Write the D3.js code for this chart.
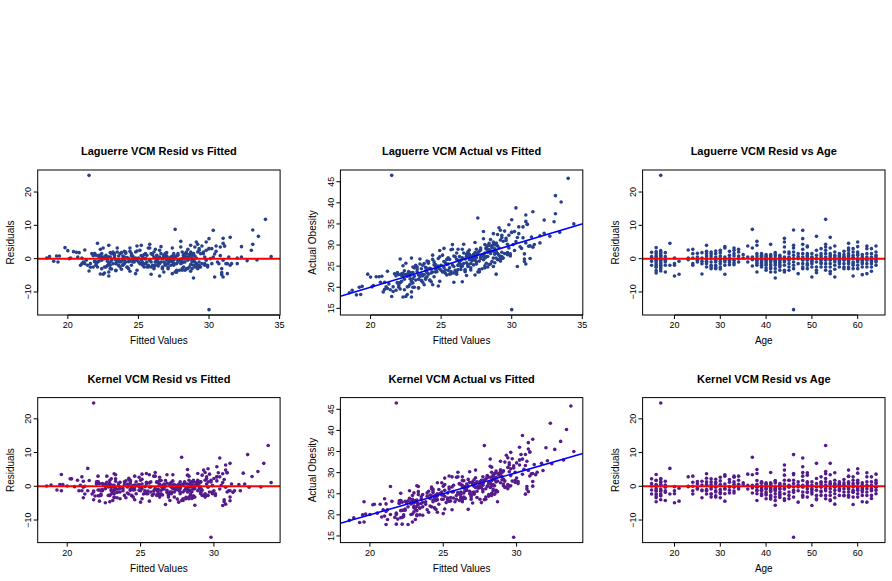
<!DOCTYPE html>
<html>
<head>
<meta charset="utf-8">
<script src="https://cdn.jsdelivr.net/npm/d3@7"></script>
<style>
  body { margin: 0; background: #fff; }
  svg { display: block; }
  text { font-family: "Liberation Sans", Arial, Helvetica, sans-serif; fill: #000; }
</style>
</head>
<body>
<svg width="892" height="581"></svg>
<script>
// ages present in the sample (no 22 year olds)
const ageLevels = [15,16,17,18,19,20,21,23,24,25,26,27,28,29,30,31,32,33,34,35,36,37,38,39,40,
                   41,42,43,44,45,46,47,48,49,50,51,52,53,54,55,56,57,58,59,60,61,62,63,64]

// Laguerre VCM fitted values, grouped by age
const fittedLaguerre = [
  [18.5,19.0,20.6,21.4,22.2],
  [19.8,20.4,21.7,19.2,22.5,20.1,23.1,21.1,22.0,22.8,21.6,23.4,22.6],
  [21.5,20.0,23.5,19.4,21.9,22.3,20.7,24.0,22.1,21.2,23.0,21.8,22.4,21.5],
  [20.8,18.7,21.3,19.3,23.6,22.9],
  [22.1,20.9],
  [20.2,21.0,24.5,22.9],
  [23.8,22.5],
  [21.2,22.7,24.6],
  [22.3,23.3,21.0,25.2,22.0],
  [24.1,22.8,25.8,23.7],
  [23.0,24.8,21.9,26.4,22.3],
  [22.9,24.4,25.5,23.6,26.7,22.2,25.0,24.0,27.1],
  [23.2,25.9,24.6,22.6,26.2,23.9,25.4,24.3],
  [24.9,22.4,26.8,23.4,25.6,27.3,24.2,26.1],
  [25.1,23.8,27.0,24.7,22.8,26.5,25.7,23.1],
  [26.6,24.4,25.3,27.5,23.5,26.0,25.9],
  [24.0,26.3,25.0,27.8,23.0,26.9],
  [25.7,26.5,24.5,27.4,25.2,28.1,23.9],
  [26.2,24.1,27.7,25.5,26.8],
  [25.4,27.2],
  [24.9,26.1,28.3],
  [27.6,25.8,24.6,27.9,26.4],
  [28.0,25.2,26.9,28.6,24.3,27.3,25.9,29.1,26.2,27.7],
  [27.5,25.6,28.8,24.8,26.6,30.2,25.3,28.2,27.0,26.3],
  [26.0,28.4,24.7,27.1,30.6,25.5,28.9,26.7,27.9,23.9],
  [25.8,28.2,26.5,30.1,24.9,27.4,28.7,26.1,30.9,27.7,25.2,28.0],
  [27.0,29.0,25.4,28.5,26.4,31.2,27.5,28.1,26.8,28.9,24.4,30.4],
  [27.3,28.6,26.3,30.7,25.6,28.3,27.8,29.3,26.9,24.2],
  [31.0,29.1,28.0,26.1,31.4,27.2,28.8,25.7,23.4,27.6],
  [28.4,26.6,30.3,27.9,25.1,22.6,28.1,26.2],
  [33.1,30.0,28.7,27.4,29.6,26.8,23.9,28.2,29.3,27.1],
  [28.3,26.4,31.6,27.4,22.3],
  [30.3,30.0,29.2,28.5,23.1,27.0,29.8,28.0,24.2,26.7],
  [30.5,29.0,27.8,22.8,28.8,26.9,23.6,28.4,30.8],
  [28.9,24.0,27.3,29.7,28.6,30.4,21.9,26.5],
  [33.5,29.3,23.3,28.1,22.1,29.0,27.7,30.9],
  [30.0,28.7,24.5,31.0,27.5,22.7,29.1,25.3],
  [34.0,33.1,30.8,29.8,23.7,28.4,22.4,32.0,29.4,24.9],
  [31.5,23.5,29.6,32.3,28.9,22.9,29.9,24.4,31.3,28.2],
  [31.1,29.2,22.2,28.3,24.7,29.7,23.8,31.0,33.4,27.6],
  [29.4,22.9,28.0,23.2,29.1,21.8,27.2,32.0],
  [30.5,28.6,23.0,27.9,21.6,29.3,28.8,26.8],
  [31.0,22.5,33.0,28.9,29.7,23.6,27.7,22.1,29.2,28.2,24.6,26.3],
  [30.2,28.1,22.7,27.4,29.0,31.5,28.5,26.5,23.3,27.1],
  [29.8,32.3,28.7,22.0,27.5,24.1,29.2,23.0,28.0,26.9],
  [28.8,22.6,27.0,29.5,23.7,30.9,28.3,26.2],
  [31.1,29.3,21.9,27.6,28.9,23.4,26.7,24.8],
  [30.0,28.4,22.3,27.3,31.3,25.9,28.7,24.3],
  [34.4,29.5,24.8,28.2,22.8,27.8,29.9,32.7]
]

// Laguerre VCM residuals (actual - fitted), same grouping
const residLaguerre = [
  [0.2,-0.8,1.9,-2.0,0.6],
  [3.3,2.1,1.5,0.8,0.5,0.0,-0.5,-1.0,-1.6,-2.1,-2.6,-3.6,-4.3],
  [25.0,2.4,2.0,0.8,1.5,1.0,0.5,-0.5,-1.0,-1.5,-2.0,-2.5,-3.0,-3.7],
  [1.8,0.6,-0.5,-1.0,-2.0,-4.0],
  [4.6,-2.0],
  [0.2,-1.5,-2.0,-5.2],
  [-0.8,-4.7],
  [2.6,0.2,-0.3],
  [2.8,1.5,0.2,-1.5,-2.0],
  [1.6,0.5,-0.5,-1.0],
  [1.8,0.2,-0.8,-1.5,-4.6],
  [4.0,2.2,1.5,0.8,0.0,-0.8,-1.0,-1.5,-2.5],
  [2.0,1.5,0.8,0.0,-1.0,-2.0,-2.5,-3.0],
  [2.3,1.5,0.5,-0.5,-1.0,-2.0,-2.6,-3.0],
  [2.5,1.8,0.8,0.0,-0.8,-1.5,-2.5,-3.1],
  [3.6,3.2,0.5,-0.5,-1.0,-2.0,-4.7],
  [2.2,1.0,0.2,-0.5,-1.0,-1.8],
  [3.2,2.5,1.5,0.8,-0.5,-1.2,-1.8],
  [2.8,2.0,0.8,0.0,-1.0],
  [1.2,0.2],
  [3.8,0.5,-1.0],
  [8.8,3.2,0.5,-0.3,-2.2],
  [5.2,4.0,1.5,0.8,0.0,-0.5,-1.0,-1.5,-2.0,-4.0],
  [1.5,1.0,0.3,-0.3,-1.0,-1.5,-2.0,-2.5,0.7,-0.6],
  [1.2,0.5,0.0,-0.5,-1.0,-1.5,-2.0,-2.8,-3.5,0.8],
  [4.3,1.2,0.5,0.0,-0.5,-1.0,-1.8,-2.5,-3.0,-4.0,0.9,-0.2],
  [1.8,0.8,0.0,-0.5,-1.0,-1.5,-2.0,-3.0,-4.0,-5.8,-0.8,1.4],
  [0.5,0.0,-0.5,-1.5,-2.5,-3.5,1.0,-1.0,-2.0,0.3],
  [6.1,5.0,3.5,2.0,0.5,-0.5,-1.0,-2.0,-3.5,-4.0],
  [2.0,1.5,0.5,-0.5,-1.5,-2.5,-3.5,0.2],
  [8.6,-15.3,4.0,3.2,2.0,1.0,0.0,-1.0,-2.0,-3.0],
  [1.5,0.0,-1.5,-4.5,0.6],
  [8.5,6.0,4.3,2.8,1.5,0.5,-0.5,-1.5,-2.5,-3.0],
  [3.8,3.5,1.5,0.5,-0.5,-1.5,-2.0,-3.0,0.9],
  [1.5,0.5,-0.5,-1.5,-2.5,-5.5,-0.9,0.3],
  [6.7,2.5,1.0,0.0,-1.0,-2.5,-3.5,-4.2],
  [3.0,1.5,0.8,-0.5,-1.5,-2.5,0.2,-1.2],
  [11.8,4.3,3.5,2.5,1.5,0.5,-0.5,-1.5,-2.5,-3.5],
  [6.4,3.2,1.5,0.5,-0.5,-1.5,-2.5,-3.8,-4.5,0.9],
  [3.8,2.0,1.0,0.0,-1.0,-2.0,-3.2,-5.5,-0.4,0.6],
  [1.5,0.5,-0.5,-1.5,-2.5,0.9,-0.9,0.2],
  [2.2,1.2,0.5,-0.5,-1.5,-2.5,-3.0,0.4],
  [4.6,3.2,2.5,1.5,0.5,-0.5,-1.5,-2.5,-3.0,0.9,-1.0,0.0],
  [3.0,2.0,1.0,0.0,-1.0,-2.0,-3.0,-5.2,0.4,-1.5],
  [5.0,3.6,2.0,1.0,0.0,-1.0,-2.0,-3.0,-0.5,1.4],
  [1.2,0.5,-0.5,-1.5,-2.5,-4.8,0.1,-1.0],
  [3.8,3.0,1.5,0.5,-0.5,-1.5,-2.5,-4.5],
  [3.0,1.5,0.5,-0.5,-1.5,-2.5,-3.8,-0.9],
  [0.6,3.8,2.0,1.0,0.0,-1.0,-2.0,-0.6]
]

// Kernel VCM fitted values, same grouping
const fittedKernel = [
  [18.6,19.3,20.3,21.7,22.0],
  [19.6,20.7,21.5,19.5,22.8,20.0,23.3,21.4,21.8,23.0,21.9,23.2,22.9],
  [21.8,20.2,23.3,19.7,22.1,22.0,20.9,24.3,22.4,21.0,23.2,22.1,22.2,21.8],
  [21.1,18.9,21.1,19.6,23.4,23.1],
  [21.4,21.2],
  [20.5,20.8,24.7,22.6],
  [23.6,22.2],
  [21.0,22.9,24.4],
  [22.1,23.6,21.2,25.0,22.3],
  [24.3,22.6,26.0,23.5],
  [23.3,24.6,22.2,26.2,21.1],
  [23.2,24.2,25.7,23.9,26.5,22.4,25.3,23.8,26.9],
  [23.0,26.1,24.9,22.8,26.0,24.2,25.2,24.5],
  [25.1,22.7,26.6,23.2,25.9,27.0,24.4,26.3],
  [24.9,24.0,27.3,24.5,23.0,26.8,25.4,23.4],
  [26.8,24.6,25.1,27.7,23.3,26.2,25.6],
  [24.2,26.1,25.3,27.5,23.2,27.1],
  [25.9,26.3,24.7,27.6,25.0,28.3,24.1],
  [26.0,24.3,27.9,25.7,26.6],
  [25.6,27.0],
  [25.1,26.3,28.1],
  [27.8,25.6,24.8,28.1,26.2],
  [28.2,25.4,26.7,28.8,24.5,27.1,26.1,28.9,26.4,27.9],
  [27.7,25.4,29.0,24.6,26.8,30.0,25.5,28.4,26.8,26.5],
  [26.2,28.2,24.9,27.3,30.4,25.7,29.1,26.5,28.1,24.1],
  [26.0,28.4,26.3,29.9,25.1,27.6,28.5,26.3,31.1,27.5,25.4,28.2],
  [27.2,28.8,25.6,28.7,26.2,31.0,27.7,28.3,27.0,28.7,24.6,30.2],
  [27.5,28.4,26.5,30.9,25.8,28.1,28.0,29.1,27.1,24.4],
  [30.8,29.3,28.2,26.3,31.2,27.4,28.6,25.9,23.6,27.8],
  [28.6,26.4,30.5,27.7,25.3,22.8,28.3,26.4],
  [32.3,29.8,28.9,27.2,29.8,27.0,24.1,28.4,29.1,27.3],
  [28.5,26.6,31.4,27.6,22.5],
  [30.4,30.2,29.4,28.3,22.9,27.2,29.6,28.2,24.4,26.9],
  [30.3,29.2,28.0,23.0,29.0,27.1,23.4,28.6,30.6],
  [29.1,24.2,27.5,29.9,28.4,30.6,22.1,26.7],
  [33.4,29.5,23.5,28.3,22.3,29.2,27.9,30.7],
  [30.2,28.9,24.3,30.8,27.7,22.9,28.9,25.5],
  [33.7,33.0,30.6,30.0,23.9,28.6,22.6,31.8,29.6,25.1],
  [31.1,23.3,29.8,32.1,29.1,23.1,30.1,24.6,31.1,28.4],
  [30.9,29.4,22.4,28.5,24.9,29.9,24.0,30.8,33.2,27.8],
  [29.6,23.1,28.2,23.0,29.3,22.0,27.4,31.7],
  [30.7,28.8,23.2,28.1,21.8,29.5,28.6,27.0],
  [30.8,22.7,32.6,29.1,29.5,23.8,27.9,22.3,29.4,28.0,24.4,26.5],
  [30.4,28.3,22.9,27.6,29.2,31.3,28.7,26.7,23.5,27.3],
  [29.6,32.0,28.9,22.2,27.7,24.3,29.4,23.2,28.2,27.1],
  [29.0,22.8,27.2,29.7,23.9,30.7,28.5,26.4],
  [30.9,29.5,22.1,27.8,29.1,23.6,26.9,25.0],
  [30.2,28.6,22.5,27.5,31.1,26.1,28.5,24.5],
  [33.9,29.7,25.0,28.4,23.0,28.0,30.1,32.4]
]

var svg = d3.select('svg'),
    lagColor = '#27408B',
    kerColor = '#551A8B'

// one record per person: actual obesity is the same for both models
var obs = []
ageLevels.forEach((a, i) => {
    fittedLaguerre[i].forEach((f, j) => {
        var actual = f + residLaguerre[i][j]
        var fk = fittedKernel[i][j]
        obs.push({ age: a, actual: actual, fitL: f, resL: residLaguerre[i][j], fitK: fk, resK: actual - fk })
    })
})

// grid of plot regions (base graphics mfrow-ish)
var colLeft = [37.7, 340.4, 642.6],
    rowTop = [170, 397.6],
    boxW = 242.4,
    boxH = 145

var panels = [
    { row: 0, col: 0, title: 'Laguerre VCM Resid vs Fitted', x: 'fitL', y: 'resL', xlab: 'Fitted Values', ylab: 'Residuals', color: lagColor, ref: 'zero' },
    { row: 0, col: 1, title: 'Laguerre VCM Actual vs Fitted', x: 'fitL', y: 'actual', xlab: 'Fitted Values', ylab: 'Actual Obesity', color: lagColor, ref: 'diag' },
    { row: 0, col: 2, title: 'Laguerre VCM Resid vs Age', x: 'age', y: 'resL', xlab: 'Age', ylab: 'Residuals', color: lagColor, ref: 'zero' },
    { row: 1, col: 0, title: 'Kernel VCM Resid vs Fitted', x: 'fitK', y: 'resK', xlab: 'Fitted Values', ylab: 'Residuals', color: kerColor, ref: 'zero' },
    { row: 1, col: 1, title: 'Kernel VCM Actual vs Fitted', x: 'fitK', y: 'actual', xlab: 'Fitted Values', ylab: 'Actual Obesity', color: kerColor, ref: 'diag' },
    { row: 1, col: 2, title: 'Kernel VCM Resid vs Age', x: 'age', y: 'resK', xlab: 'Age', ylab: 'Residuals', color: kerColor, ref: 'zero' }
]

// R-style axis limits: data range stretched by 4% each side
function rlim(vals) {
    var e = d3.extent(vals), r = e[1] - e[0]
    return [e[0] - 0.04 * r, e[1] + 0.04 * r]
}

panels.forEach((p, k) => {
    var left = colLeft[p.col], top = rowTop[p.row]
    var x = d3.scaleLinear().domain(rlim(obs.map(d => d[p.x]))).range([left, left + boxW])
    var y = d3.scaleLinear().domain(rlim(obs.map(d => d[p.y]))).range([top + boxH, top])

    var g = svg.append('g').attr('class', 'panel')

    g.append('clipPath').attr('id', 'clip' + k)
        .append('rect').attr('x', left).attr('y', top).attr('width', boxW).attr('height', boxH)

    // points
    g.append('g').selectAll('circle')
        .data(obs)
        .enter().append('circle')
        .attr('cx', d => x(d[p.x]))
        .attr('cy', d => y(d[p.y]))
        .attr('r', 1.8)
        .attr('fill', p.color)

    // reference line
    var xd = x.domain()
    var line = g.append('line').attr('clip-path', 'url(#clip' + k + ')')
    if (p.ref == 'zero') {
        line.attr('x1', left).attr('x2', left + boxW)
            .attr('y1', y(0)).attr('y2', y(0))
            .attr('stroke', '#ff0000').attr('stroke-width', 2)
    } else {
        line.attr('x1', x(xd[0])).attr('y1', y(xd[0]))
            .attr('x2', x(xd[1])).attr('y2', y(xd[1]))
            .attr('stroke', '#0000ff').attr('stroke-width', 1.6)
    }

    // box
    g.append('rect')
        .attr('x', left).attr('y', top).attr('width', boxW).attr('height', boxH)
        .attr('fill', 'none').attr('stroke', '#000').attr('stroke-width', 1)

    // x axis
    var xt = x.ticks(5)
    g.append('line')
        .attr('x1', x(xt[0])).attr('x2', x(xt[xt.length - 1]))
        .attr('y1', top + boxH).attr('y2', top + boxH)
        .attr('stroke', '#000')
    g.selectAll('.xtick').data(xt).enter().append('line')
        .attr('x1', d => x(d)).attr('x2', d => x(d))
        .attr('y1', top + boxH).attr('y2', top + boxH + 4)
        .attr('stroke', '#000')
    g.selectAll('.xlab').data(xt).enter().append('text')
        .attr('x', d => x(d)).attr('y', top + boxH + 13)
        .attr('text-anchor', 'middle').attr('font-size', 9)
        .text(d => d)

    // y axis, labels parallel to the axis
    var yt = y.ticks(5)
    g.append('line')
        .attr('x1', left).attr('x2', left)
        .attr('y1', y(yt[0])).attr('y2', y(yt[yt.length - 1]))
        .attr('stroke', '#000')
    g.selectAll('.ytick').data(yt).enter().append('line')
        .attr('x1', left - 4).attr('x2', left)
        .attr('y1', d => y(d)).attr('y2', d => y(d))
        .attr('stroke', '#000')
    g.selectAll('.ylab').data(yt).enter().append('text')
        .attr('transform', d => `translate(${left - 10},${y(d)})rotate(-90)`)
        .attr('dy', '0.35em')
        .attr('text-anchor', 'middle').attr('font-size', 9)
        .text(d => d < 0 ? '\u2212' + Math.abs(d) : d)

    // titles
    g.append('text')
        .attr('x', left + boxW / 2).attr('y', top - 15)
        .attr('text-anchor', 'middle').attr('font-size', 11).attr('font-weight', 'bold')
        .text(p.title)
    g.append('text')
        .attr('x', left + boxW / 2).attr('y', top + boxH + 29.3)
        .attr('text-anchor', 'middle').attr('font-size', 10)
        .text(p.xlab)
    g.append('text')
        .attr('transform', `translate(${left - 27.5},${top + boxH / 2})rotate(-90)`)
        .attr('dy', '0.35em')
        .attr('text-anchor', 'middle').attr('font-size', 10)
        .text(p.ylab)
})
</script>
</body>
</html>
